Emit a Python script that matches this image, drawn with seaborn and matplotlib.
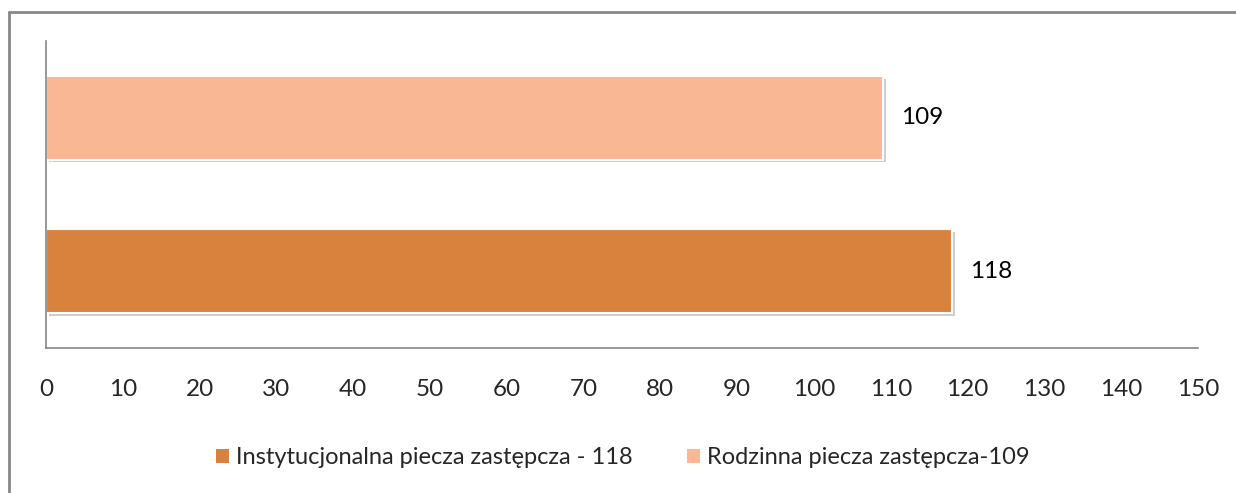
import matplotlib
matplotlib.use("Agg")
import matplotlib.pyplot as plt
import matplotlib.patheffects as pe
from matplotlib.lines import Line2D
from matplotlib.patches import Patch
import seaborn as sns
import pandas as pd

categories = ["Rodzinna piecza zastępcza", "Instytucjonalna piecza zastępcza"]
values = [109, 118]
legend_labels = ["Instytucjonalna piecza zastępcza - 118", "Rodzinna piecza zastępcza-109"]
colors = ["#F9B794", "#D9823E"]
xticks = list(range(0, 151, 10))

sns.set_theme(style="white")
plt.rcParams["font.family"] = ["Lato", "DejaVu Sans"]

df = pd.DataFrame({"cat": categories, "val": values})

fig = plt.figure(figsize=(12.36, 4.93), dpi=100)
ax = fig.add_axes([46/1236, 1-348/493, (1198-46)/1236, (348-41)/493])

sns.barplot(data=df, y="cat", x="val", hue="cat", palette=colors, order=categories,
            hue_order=categories, orient="h", width=0.545, legend=False, ax=ax,
            saturation=1, edgecolor="white", linewidth=1.5)
for p in ax.patches:
    p.set_path_effects([pe.SimplePatchShadow(offset=(2, -2), shadow_rgbFace="#9a9a9a", alpha=0.5), pe.Normal()])

for i, v in enumerate(values):
    ax.text(v + 2.3, i, str(v), va="center", ha="left", fontsize=17.5, color="black")

ax.set_xlim(0, 150)
ax.set_ylim(1.5, -0.5)
ax.set_xticks(xticks)
ax.set_xticklabels([str(t) for t in xticks], fontsize=17.5)
ax.tick_params(axis="x", length=0, pad=22)
ax.set_yticks([])
ax.set_xlabel("")
ax.set_ylabel("")
for s in ["top", "right"]:
    ax.spines[s].set_visible(False)
for s in ["left", "bottom"]:
    ax.spines[s].set_color("#868686")
    ax.spines[s].set_linewidth(1.2)

handles = [Patch(facecolor=colors[1], edgecolor="none"), Patch(facecolor=colors[0], edgecolor="none")]
fig.legend(handles, legend_labels, loc="center", bbox_to_anchor=(623/1236, 1-458/493), ncol=2,
           frameon=False, fontsize=17, handlelength=0.55, handleheight=0.55, handletextpad=0.3,
           columnspacing=2.3)

# outer border (left and top only visible)
fig.add_artist(Line2D([9/1236, 9/1236], [0, 1-12/493], color="#888888", lw=2, transform=fig.transFigure))
fig.add_artist(Line2D([9/1236, 1], [1-12/493, 1-12/493], color="#888888", lw=2, transform=fig.transFigure))

fig.savefig("out.png", dpi=100)
